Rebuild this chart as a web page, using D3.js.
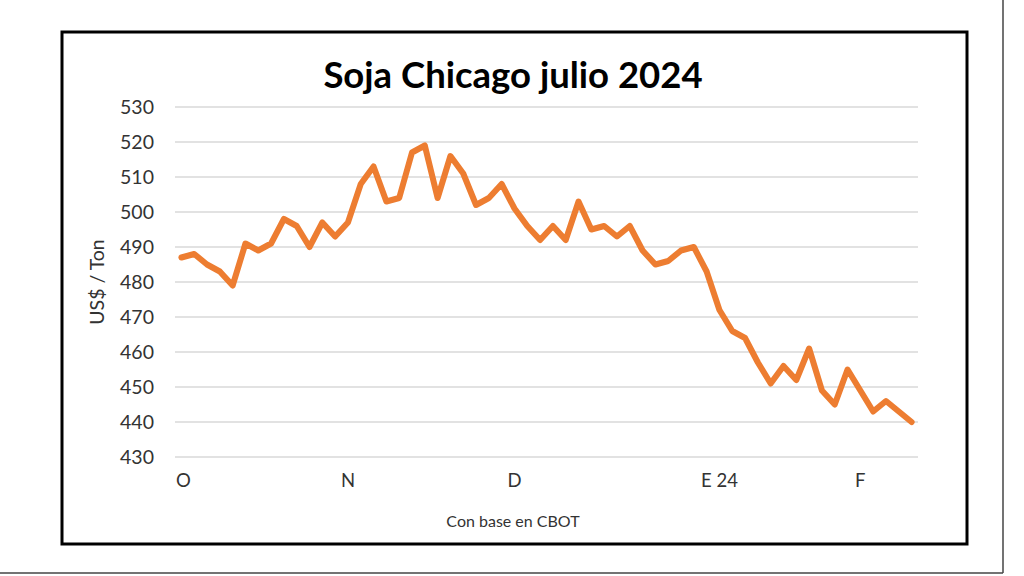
<!DOCTYPE html>
<html><head><meta charset="utf-8">
<script src="https://cdn.jsdelivr.net/npm/d3@7"></script>
<style>html,body{margin:0;padding:0;background:#fff;}svg{display:block;}</style>
</head><body>
<svg id="c" width="1024" height="576"></svg>
<script>
const title = "Soja Chicago julio 2024";
const yTitle = "US$ / Ton";
const xTitle = "Con base en CBOT";
const prices = [487,488,485,483,479,491,489,491,498,496,490,497,493,497,508,513,503,504,517,519,504,516,511,502,504,508,501,496,492,496,492,503,495,496,493,496,489,485,486,489,490,483,472,466,464,457,451,456,452,461,449,445,455,449,443,446,443,440];
const monthLabelIndex = [0,13,26,42,53];
const monthLabels = ["O","N","D","E 24","F"];
const yTicks = [430,440,450,460,470,480,490,500,510,520,530];

const svg = d3.select("#c");
const font = "Lato, 'Open Sans', sans-serif";

// outer frame lines of the screenshot
svg.append("line").attr("x1",1003).attr("x2",1003).attr("y1",0).attr("y2",573).attr("stroke","#444").attr("stroke-width",1.5);
svg.append("line").attr("x1",0).attr("x2",1003).attr("y1",573).attr("y2",573).attr("stroke","#444").attr("stroke-width",1.5);

// chart border
svg.append("rect").attr("x",62).attr("y",32).attr("width",905).attr("height",512)
  .attr("fill","#fff").attr("stroke","#000").attr("stroke-width",3);

const x = d3.scaleBand().domain(d3.range(prices.length)).range([175,918]);
const y = d3.scaleLinear().domain([430,530]).range([457,107]);

// gridlines
svg.append("g").selectAll("line").data(yTicks).join("line")
  .attr("x1",175).attr("x2",918)
  .attr("y1",d=>y(d)).attr("y2",d=>y(d))
  .attr("stroke","#d9d9d9").attr("stroke-width",1.5);

// y axis labels
const yAxis = d3.axisLeft(y).tickValues(yTicks).tickSize(0).tickPadding(0);
const gy = svg.append("g").attr("transform","translate(154,0)").call(yAxis);
gy.select(".domain").remove();
gy.selectAll("text").attr("font-family",font).attr("font-size",19.5).attr("fill","#333");

// x axis labels
const labelMap = new Map(monthLabelIndex.map((d,i)=>[d,monthLabels[i]]));
const xAxis = d3.axisBottom(x).tickValues(monthLabelIndex).tickFormat(d=>labelMap.get(d)).tickSize(0).tickPadding(0);
const gx = svg.append("g").attr("transform","translate(0,474)").call(xAxis);
gx.select(".domain").remove();
gx.selectAll("text").attr("font-family",font).attr("font-size",18.5).attr("fill","#333")
  .attr("dx", d=> d===0 ? 2 : 0);

// line
const line = d3.line().x((d,i)=>x(i)+x.bandwidth()/2).y(d=>y(d));
svg.append("path").datum(prices).attr("d",line)
  .attr("fill","none").attr("stroke","#ED7D31").attr("stroke-width",6)
  .attr("stroke-linejoin","round").attr("stroke-linecap","round");

// titles
svg.append("text").attr("x",513).attr("y",88).attr("text-anchor","middle")
  .attr("font-family",font).attr("font-weight","bold").attr("font-size",36.5).attr("fill","#000").text(title);
svg.append("text").attr("transform","translate(104,282) rotate(-90)").attr("text-anchor","middle")
  .attr("font-family",font).attr("font-size",19.5).attr("fill","#333").text(yTitle);
svg.append("text").attr("x",513).attr("y",527).attr("text-anchor","middle")
  .attr("font-family",font).attr("font-size",16).attr("fill","#333").text(xTitle);
</script>
</body></html>
